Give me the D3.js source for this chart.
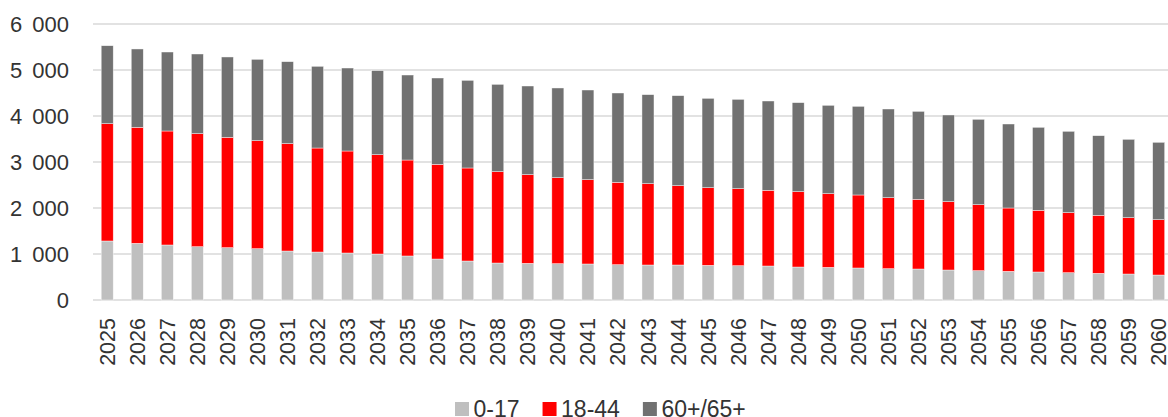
<!DOCTYPE html>
<html>
<head>
<meta charset="utf-8">
<script src="https://cdn.jsdelivr.net/npm/d3@7"></script>
<style>
  html, body { margin: 0; padding: 0; background: #fff; }
  svg { display: block; font-family: "Liberation Sans", Arial, sans-serif; }
</style>
</head>
<body>
<svg id="chart" width="1168" height="417"></svg>
<script>
// Population by age group, 2025–2060
const years = [2025, 2026, 2027, 2028, 2029, 2030, 2031, 2032, 2033, 2034, 2035, 2036,
  2037, 2038, 2039, 2040, 2041, 2042, 2043, 2044, 2045, 2046, 2047, 2048,
  2049, 2050, 2051, 2052, 2053, 2054, 2055, 2056, 2057, 2058, 2059, 2060];

const age0to17 = [1283, 1232, 1196, 1159, 1138, 1116, 1065, 1043, 1022, 1000, 957, 891,
  848, 804, 797, 790, 783, 768, 761, 761, 754, 746, 739, 717,
  710, 696, 681, 674, 652, 638, 623, 609, 594, 580, 565, 543];

const age18to44 = [2550, 2522, 2478, 2457, 2398, 2348, 2334, 2261, 2217, 2159, 2086, 2058,
  2022, 1986, 1928, 1869, 1833, 1790, 1768, 1725, 1688, 1674, 1645, 1638,
  1602, 1587, 1544, 1514, 1486, 1434, 1377, 1340, 1305, 1261, 1225, 1203];

const age60plus = [1695, 1703, 1717, 1732, 1747, 1768, 1782, 1776, 1804, 1827, 1848, 1877,
  1905, 1898, 1927, 1950, 1949, 1942, 1935, 1956, 1942, 1942, 1942, 1935,
  1920, 1927, 1927, 1913, 1884, 1856, 1826, 1805, 1768, 1731, 1703, 1682];

const seriesKeys = ["0-17", "18-44", "60+/65+"];
const seriesColors = ["#bfbfbf", "#ff0000", "#717171"];
const yTicks = [0, 1000, 2000, 3000, 4000, 5000, 6000];

const rows = years.map((y, i) => ({
  year: y,
  "0-17": age0to17[i],
  "18-44": age18to44[i],
  "60+/65+": age60plus[i]
}));

const svg = d3.select("#chart");
const W = 1168;

const x = d3.scaleBand()
  .domain(years)
  .range([92.2, 1173.7])
  .paddingInner(0.6)
  .paddingOuter(0.3);

const y = d3.scaleLinear().domain([0, 6000]).range([300, 24]);

const fmt = v => d3.format(",")(v).replace(/,/g, " ");

// Horizontal gridlines
svg.append("g")
  .selectAll("line")
  .data(yTicks)
  .join("line")
  .attr("x1", 93).attr("x2", W)
  .attr("y1", d => y(d)).attr("y2", d => y(d))
  .attr("stroke", "#d9d9d9")
  .attr("stroke-width", 1.6);

// Y axis labels
const yAxis = svg.append("g")
  .attr("transform", "translate(69,0)")
  .call(d3.axisLeft(y).tickValues(yTicks).tickFormat(fmt).tickSize(0).tickPadding(0));
yAxis.select(".domain").remove();
yAxis.selectAll("text")
  .attr("font-size", 22)
  .attr("font-family", "Liberation Sans, Arial, sans-serif")
  .attr("fill", "#333")
  .attr("word-spacing", "4px");

// Stacked bars
const stack = d3.stack().keys(seriesKeys);
const layers = stack(rows);
const color = d3.scaleOrdinal().domain(seriesKeys).range(seriesColors);

svg.append("g")
  .selectAll("g")
  .data(layers)
  .join("g")
  .attr("fill", d => color(d.key))
  .selectAll("rect")
  .data(d => d)
  .join("rect")
  .attr("x", d => x(d.data.year))
  .attr("width", x.bandwidth())
  .attr("y", d => y(d[1]))
  .attr("height", d => y(d[0]) - y(d[1]))
  .attr("stroke", "#fff")
  .attr("stroke-width", 0.6)
  .attr("stroke-opacity", 0.7);

// X axis year labels (rotated)
const xAxis = svg.append("g")
  .attr("transform", "translate(0,318)")
  .call(d3.axisBottom(x).tickSize(0).tickPadding(0));
xAxis.select(".domain").remove();
xAxis.selectAll("text")
  .attr("font-size", 21.5)
  .attr("font-family", "Liberation Sans, Arial, sans-serif")
  .attr("fill", "#333")
  .attr("text-anchor", "end")
  .attr("dy", "0.35em")
  .attr("transform", "rotate(-90)")
  .attr("x", 0)
  .attr("y", 0);

// Legend
const legend = svg.append("g");
let lx = 455;
seriesKeys.forEach((k, i) => {
  const item = legend.append("g");
  item.append("rect")
    .attr("x", lx).attr("y", 402)
    .attr("width", 14).attr("height", 14)
    .attr("fill", seriesColors[i]);
  const t = item.append("text")
    .attr("x", lx + 18.5).attr("y", 416.5)
    .attr("font-size", 23)
    .attr("fill", "#333")
    .text(k);
  lx += 18.5 + t.node().getComputedTextLength() + 23;
});
</script>
</body>
</html>
